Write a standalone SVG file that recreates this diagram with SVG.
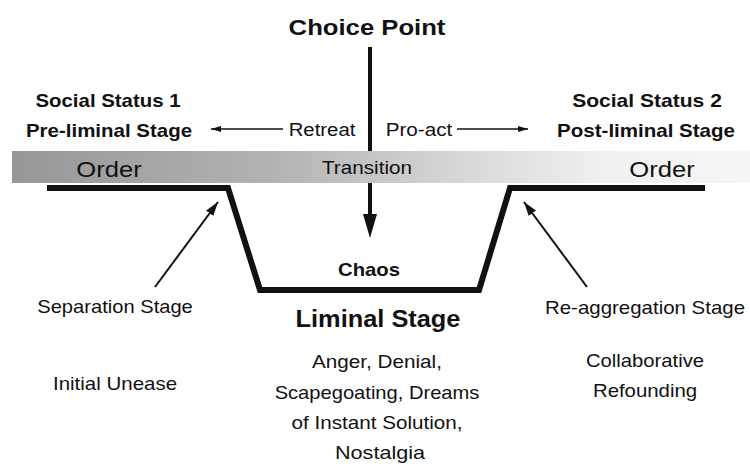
<svg xmlns="http://www.w3.org/2000/svg" width="750" height="466" viewBox="0 0 750 466">
<defs>
<linearGradient id="barGrad" x1="0" y1="0" x2="1" y2="0">
<stop offset="0" stop-color="#979797"/>
<stop offset="0.35" stop-color="#b2b2b2"/>
<stop offset="0.6" stop-color="#d6d6d6"/>
<stop offset="0.8" stop-color="#f0f0f0"/>
<stop offset="1" stop-color="#f6f6f6"/>
</linearGradient>
<marker id="ahSmall" markerWidth="10" markerHeight="6" refX="10" refY="3" orient="auto" markerUnits="userSpaceOnUse">
<path d="M0,0 L10,3 L0,6 Z" fill="#111"/>
</marker>
<marker id="ahMid" markerWidth="14" markerHeight="9" refX="14" refY="4.5" orient="auto" markerUnits="userSpaceOnUse">
<path d="M0,0 L14,4.5 L0,9 Z" fill="#111"/>
</marker>
</defs>
<style>
text { font-family: "Liberation Sans", Arial, sans-serif; fill: #111; text-anchor: middle; }
.b { font-weight: bold; }
.conn { stroke: #111; fill: none; }
</style>
<rect width="750" height="466" fill="#ffffff"/>

<g id="connectors">
<line class="conn" x1="370" y1="47" x2="370" y2="218" stroke-width="4"/>
<polygon points="363,214 377,214 370,238" fill="#111"/>
<line class="conn" x1="283" y1="129" x2="211" y2="129" stroke-width="1.6" marker-end="url(#ahSmall)"/>
<line class="conn" x1="457" y1="129" x2="528" y2="129" stroke-width="1.6" marker-end="url(#ahSmall)"/>
<line class="conn" x1="155" y1="287" x2="218" y2="202" stroke-width="2" marker-end="url(#ahMid)"/>
<line class="conn" x1="587" y1="287" x2="524" y2="202" stroke-width="2" marker-end="url(#ahMid)"/>
</g>

<g id="bar">
<rect x="12" y="151" width="738" height="32" fill="url(#barGrad)"/>
<text transform="translate(109,177) scale(1.17,1)" font-size="22" textLength="56" lengthAdjust="spacingAndGlyphs">Order</text>
<text transform="translate(367,174) scale(1.17,1)" font-size="18" textLength="77" lengthAdjust="spacingAndGlyphs">Transition</text>
<text transform="translate(662,177) scale(1.17,1)" font-size="22" textLength="56" lengthAdjust="spacingAndGlyphs">Order</text>
</g>

<g id="trough">
<path d="M47,188 L228,188 L260,290 L479,290 L510,188 L705,188" fill="none" stroke="#111" stroke-width="6" stroke-linejoin="miter"/>
<text class="b" transform="translate(369,276) scale(1.17,1)" font-size="18" textLength="53" lengthAdjust="spacingAndGlyphs">Chaos</text>
</g>

<g id="choice-point">
<text class="b" transform="translate(367,35) scale(1.17,1)" font-size="22.5" textLength="134" lengthAdjust="spacingAndGlyphs">Choice Point</text>
</g>

<g id="status1">
<text class="b" transform="translate(108,107) scale(1.17,1)" font-size="17.5" textLength="124" lengthAdjust="spacingAndGlyphs">Social Status 1</text>
<text class="b" transform="translate(109,137) scale(1.17,1)" font-size="17.5" textLength="142" lengthAdjust="spacingAndGlyphs">Pre-liminal Stage</text>
</g>

<g id="status2">
<text class="b" transform="translate(647,107) scale(1.17,1)" font-size="17.5" textLength="128" lengthAdjust="spacingAndGlyphs">Social  Status 2</text>
<text class="b" transform="translate(646,137) scale(1.17,1)" font-size="17.5" textLength="152" lengthAdjust="spacingAndGlyphs">Post-liminal Stage</text>
</g>

<g id="retreat">
<text transform="translate(322,136) scale(1.17,1)" font-size="18.5" textLength="57" lengthAdjust="spacingAndGlyphs">Retreat</text>
</g>
<g id="proact">
<text transform="translate(419,136) scale(1.17,1)" font-size="18.5" textLength="57" lengthAdjust="spacingAndGlyphs">Pro-act</text>
</g>

<g id="separation">
<text transform="translate(115,313) scale(1.17,1)" font-size="17.5" textLength="133" lengthAdjust="spacingAndGlyphs">Separation Stage</text>
<text transform="translate(115,390) scale(1.17,1)" font-size="17.5" textLength="106" lengthAdjust="spacingAndGlyphs">Initial Unease</text>
</g>

<g id="liminal">
<text class="b" transform="translate(378,327) scale(1.17,1)" font-size="23.5" textLength="141" lengthAdjust="spacingAndGlyphs">Liminal Stage</text>
<text transform="translate(377,368) scale(1.17,1)" font-size="17.5" textLength="111" lengthAdjust="spacingAndGlyphs">Anger, Denial,</text>
<text transform="translate(377,399) scale(1.17,1)" font-size="17.5" textLength="175" lengthAdjust="spacingAndGlyphs">Scapegoating, Dreams</text>
<text transform="translate(377,429) scale(1.17,1)" font-size="17.5" textLength="146" lengthAdjust="spacingAndGlyphs">of Instant Solution,</text>
<text transform="translate(380,459) scale(1.17,1)" font-size="17.5" textLength="77" lengthAdjust="spacingAndGlyphs">Nostalgia</text>
</g>

<g id="reaggregation">
<text transform="translate(645,314) scale(1.17,1)" font-size="17.5" textLength="171" lengthAdjust="spacingAndGlyphs">Re-aggregation Stage</text>
<text transform="translate(645,367) scale(1.17,1)" font-size="17.5" textLength="101" lengthAdjust="spacingAndGlyphs">Collaborative</text>
<text transform="translate(645,397) scale(1.17,1)" font-size="17.5" textLength="89" lengthAdjust="spacingAndGlyphs">Refounding</text>
</g>
</svg>
